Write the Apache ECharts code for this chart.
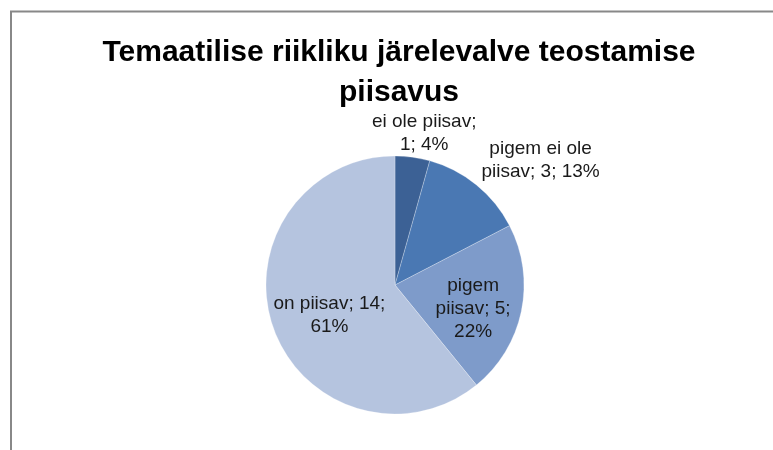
<!DOCTYPE html>
<html>
<head>
<meta charset="utf-8">
<script src="https://cdn.jsdelivr.net/npm/echarts@6/dist/echarts.min.js"></script>
<style>
  html, body { margin: 0; padding: 0; background: #fff; }
  #main { width: 773px; height: 450px; }
</style>
</head>
<body>
<div id="main"></div>
<script>
var categories = ['ei ole piisav', 'pigem ei ole piisav', 'pigem piisav', 'on piisav'];
var values = [1, 3, 5, 14];
// label text as broken into lines in the picture
var labelLines = [
    ['ei ole piisav;', '{c}; {p}%'],
    ['pigem ei ole', 'piisav; {c}; {p}%'],
    ['pigem', 'piisav; {c};', '{p}%'],
    ['on piisav; {c};', '{p}%']
];
var colors = ['#3c6195', '#4a78b3', '#7e9bca', '#b5c4df'];
var labelOffsets = [[20, -85], [103, -72], [12, 10], [-2, 8]];

var total = values.reduce(function (a, b) { return a + b; }, 0);

var pieData = categories.map(function (name, i) {
    return {
        name: name,
        value: values[i],
        itemStyle: { color: colors[i] },
        label: { offset: labelOffsets[i] }
    };
});

var myChart = echarts.init(document.getElementById('main'));
var option = {
    backgroundColor: '#ffffff',
    animation: false,
    title: {
        text: 'Temaatilise riikliku järelevalve teostamise\npiisavus',
        left: 394,
        textAlign: 'center',
        top: 28,
        textStyle: {
            fontFamily: 'Liberation Sans',
            fontSize: 30,
            fontWeight: 'bold',
            color: '#000',
            lineHeight: 40
        }
    },
    graphic: [
        {
            type: 'polyline',
            shape: { points: [[11, 450], [11, 11.5], [773, 11.5]] },
            style: { stroke: '#888888', lineWidth: 2, fill: null }
        }
    ],
    series: [
        {
            type: 'pie',
            center: [395, 285],
            radius: 129,
            startAngle: 90,
            clockwise: true,
            data: pieData,
            itemStyle: { borderColor: 'rgba(255,255,255,0.5)', borderWidth: 0.5 },
            label: {
                show: true,
                position: 'inside',
                color: '#1a1a1a',
                fontFamily: 'Liberation Sans',
                fontSize: 19,
                lineHeight: 23,
                align: 'center',
                formatter: function (p) {
                    var pct = Math.round(p.value / total * 100);
                    return labelLines[p.dataIndex].join('\n')
                        .replace('{c}', p.value).replace('{p}', pct);
                }
            },
            labelLine: { show: false },
            emphasis: { disabled: true }
        }
    ]
};
myChart.setOption(option);
</script>
</body>
</html>
